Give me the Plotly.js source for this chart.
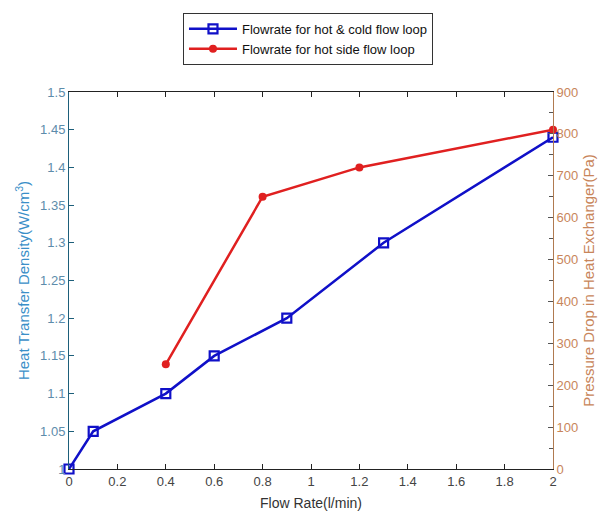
<!DOCTYPE html>
<html>
<head>
<meta charset="utf-8">
<script src="https://cdn.plot.ly/plotly-3.0.1.min.js"></script>
<style>html,body{margin:0;padding:0;background:#fff;}#chart{width:608px;height:524px;}</style>
</head>
<body>
<div id="chart"></div>
<script>
var blueFlow = [0, 0.1, 0.4, 0.6, 0.9, 1.3, 2.0];
var blueDensity = [1.0, 1.05, 1.1, 1.15, 1.2, 1.3, 1.44];
var redFlow = [0.4, 0.8, 1.2, 2.0];
var redPressure = [250, 650, 720, 810];
var blueName = "Flowrate for hot & cold flow loop";
var redName = "Flowrate for hot side flow loop";
var xTicks = [0, 0.2, 0.4, 0.6, 0.8, 1, 1.2, 1.4, 1.6, 1.8, 2];

var font = "Liberation Sans, Arial, sans-serif";
var traces = [
  {x: blueFlow, y: blueDensity, name: blueName, type: "scatter", mode: "lines+markers",
   line: {color: "#1010c8", width: 2.5},
   marker: {symbol: "square-open", size: 9, color: "#1010c8", line: {width: 2.2, color: "#1010c8"}},
   cliponaxis: false},
  {x: redFlow, y: redPressure, name: redName, type: "scatter", mode: "lines+markers", yaxis: "y2",
   line: {color: "#e02020", width: 2.5},
   marker: {symbol: "circle", size: 8, color: "#e02020"},
   cliponaxis: false}
];
var layout = {
  width: 608, height: 524,
  margin: {l: 69, r: 55, t: 92, b: 55},
  paper_bgcolor: "#fff", plot_bgcolor: "#fff",
  font: {family: font, size: 12, color: "#333"},
  showlegend: true,
  legend: {x: 0.2355, y: 1.21, xanchor: "left", yanchor: "top",
           bordercolor: "#333", borderwidth: 1, bgcolor: "#fff", itemwidth: 48,
           font: {family: font, size: 13, color: "#111"}, tracegroupgap: 0},
  xaxis: {range: [0, 2], tickvals: xTicks, ticktext: xTicks.map(String),
          showgrid: false, zeroline: false, showline: true, linecolor: "#222", linewidth: 1,
          mirror: "ticks", ticks: "inside", ticklen: 5, tickcolor: "#222",
          tickfont: {family: font, size: 13, color: "#444"},
          title: {text: "Flow Rate(l/min)", font: {family: font, size: 14, color: "#333"}, standoff: 10}},
  yaxis: {range: [1, 1.5], dtick: 0.05, tickformat: "~r",
          showgrid: false, zeroline: false, showline: true, linecolor: "#1d5f7a", linewidth: 1,
          ticks: "inside", ticklen: 5, tickcolor: "#1d5f7a",
          tickfont: {family: font, size: 13, color: "#5d8cab"},
          title: {text: "Heat Transfer Density(W/cm<sup>3</sup>)", font: {family: font, size: 15, color: "#3a8fc8"}, standoff: 6}},
  yaxis2: {range: [0, 900], dtick: 100, overlaying: "y", side: "right",
           showgrid: false, zeroline: false, showline: true, linecolor: "#b07a50", linewidth: 1,
           ticks: "inside", ticklen: 5, tickcolor: "#555",
           minor: {dtick: 50, ticks: "inside", ticklen: 4, tickcolor: "#555"},
           tickfont: {family: font, size: 13, color: "#c8855a"},
           title: {text: "Pressure Drop in Heat Exchanger(Pa)", font: {family: font, size: 15, color: "#c8855a"}, standoff: 6}}
};
Plotly.newPlot("chart", traces, layout, {displayModeBar: false, staticPlot: true});
</script>
</body>
</html>
